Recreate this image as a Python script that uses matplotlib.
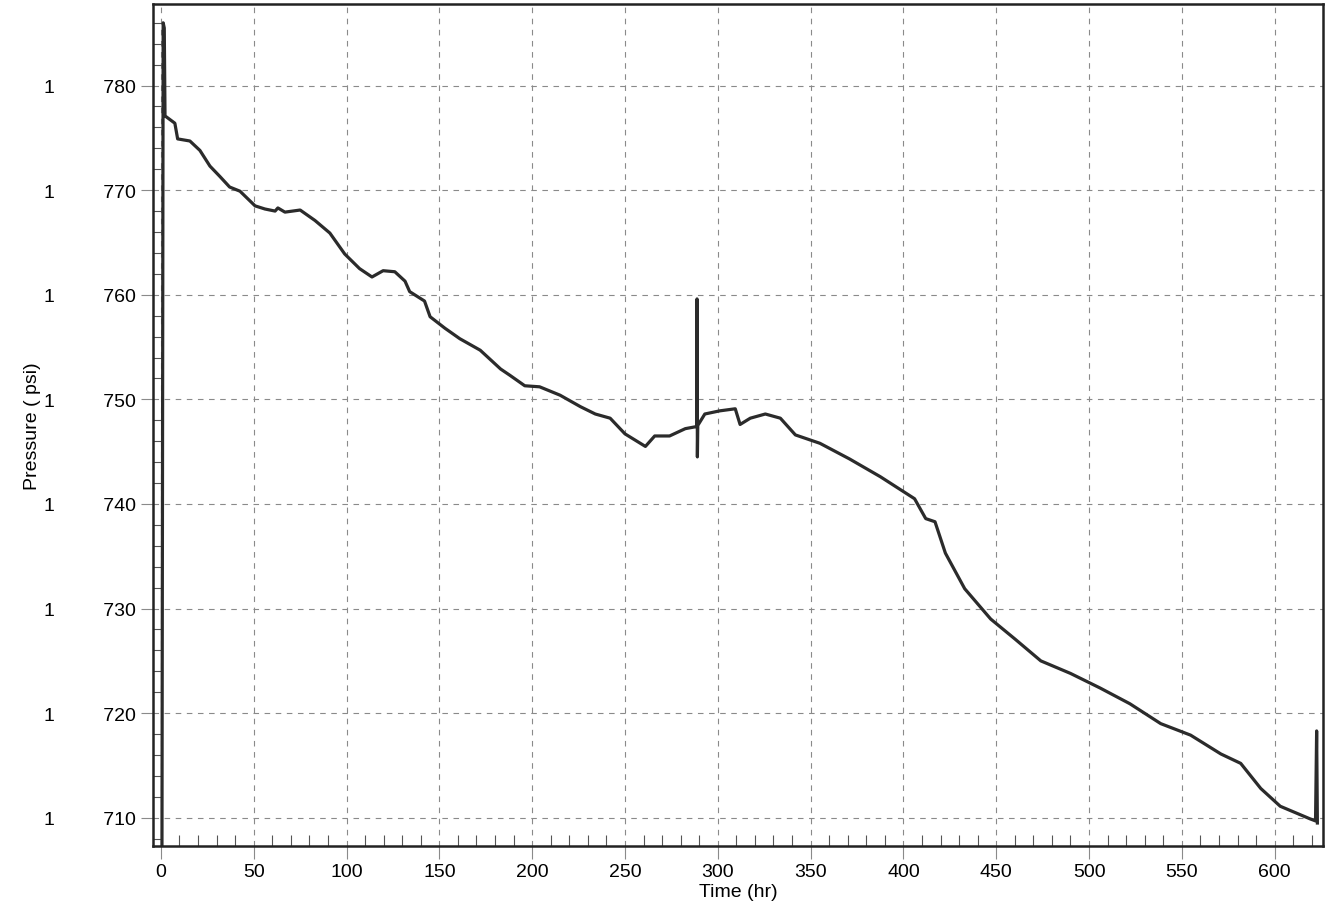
import numpy as np
import matplotlib.pyplot as plt
from matplotlib.ticker import MultipleLocator, FixedLocator

# ========== DATA ==========
time_hr = [0.5, 1.2, 1.8, 2.2, 7.5, 9, 15.6, 21, 26.4, 31.8, 37, 42.6, 50.7, 56, 61.5,
           63, 66.8, 75, 83, 91, 99, 107, 113.7, 119.7, 126, 131.5, 134, 142, 145,
           153, 161, 172, 183, 188, 196, 204, 215, 226, 234, 242, 250, 261, 266,
           274, 282.5, 288.6, 288.8, 289.0, 289.2, 293, 301, 309.4, 312, 317.5,
           325.6, 333.7, 341.8, 355, 371, 387.6, 406, 412, 417, 422.6, 433, 447,
           460, 474, 490, 506, 522, 538.6, 554.7, 571, 581.7, 592.5, 603, 619,
           622, 622.6, 623.0]
pressure_psi = [1700, 1786, 1785.5, 1777.1, 1776.4, 1774.9, 1774.7, 1773.8, 1772.3,
                1771.3, 1770.3, 1769.9, 1768.5, 1768.2, 1768.0, 1768.3, 1767.9, 1768.1,
                1767.1, 1765.9, 1763.9, 1762.5, 1761.7, 1762.3, 1762.2, 1761.3, 1760.3,
                1759.4, 1757.9, 1756.8, 1755.8, 1754.7, 1752.9, 1752.3, 1751.3, 1751.2,
                1750.4, 1749.3, 1748.6, 1748.2, 1746.7, 1745.5, 1746.5, 1746.5, 1747.2,
                1747.4, 1759.6, 1744.5, 1747.5, 1748.6, 1748.9, 1749.1, 1747.6, 1748.2,
                1748.6, 1748.2, 1746.6, 1745.8, 1744.3, 1742.6, 1740.5, 1738.6, 1738.3,
                1735.3, 1731.9, 1729.0, 1727.1, 1725.0, 1723.8, 1722.4, 1720.9, 1719.0,
                1717.9, 1716.1, 1715.2, 1712.8, 1711.1, 1709.9, 1709.7, 1718.3, 1709.5]

x_ticks = [0, 50, 100, 150, 200, 250, 300, 350, 400, 450, 500, 550, 600]
y_ticks = [1710, 1720, 1730, 1740, 1750, 1760, 1770, 1780]
# the scan splits the leading "1" off from the rest of each label
y_tick_labels = ["1         710", "1         720", "1         730", "1         740",
                 "1         750", "1         760", "1         770", "1         780"]

# ========== PLOT ==========
plt.rcParams['font.family'] = ['Liberation Sans', 'DejaVu Sans']

fig = plt.figure(figsize=(13.3, 9.03), dpi=100)
ax = fig.add_axes([0.115, 0.062, 0.8797, 0.9325])

ax.plot(time_hr, pressure_psi, color='#2b2b2b', linewidth=2.3, solid_joinstyle='round')

ax.set_xlim(-4.3, 626)
ax.set_ylim(1707.3, 1787.8)

ax.xaxis.set_major_locator(FixedLocator(x_ticks))
ax.yaxis.set_major_locator(FixedLocator(y_ticks))
ax.set_yticklabels(y_tick_labels)
ax.xaxis.set_minor_locator(MultipleLocator(10))
ax.yaxis.set_minor_locator(MultipleLocator(2))

ax.grid(True, which='major', linestyle=(0, (5, 5)), color='#8a8a8a', linewidth=0.8)

ax.tick_params(axis='both', which='major', direction='out', length=9, color='#8a8a8a',
               labelsize=14, width=0.8)
ax.tick_params(axis='x', which='minor', direction='in', length=8, color='#555555',
               width=0.8, top=False)
ax.tick_params(axis='y', which='minor', direction='in', length=6, color='#555555',
               width=0.8, right=False)

for side in ax.spines.values():
    side.set_linewidth(1.8)
    side.set_color('#222222')

ax.set_xlabel("Time (hr)", fontsize=14, labelpad=2)
ax.set_ylabel("Pressure ( psi)", fontsize=14, labelpad=2)

fig.savefig("out.png", dpi=100)
